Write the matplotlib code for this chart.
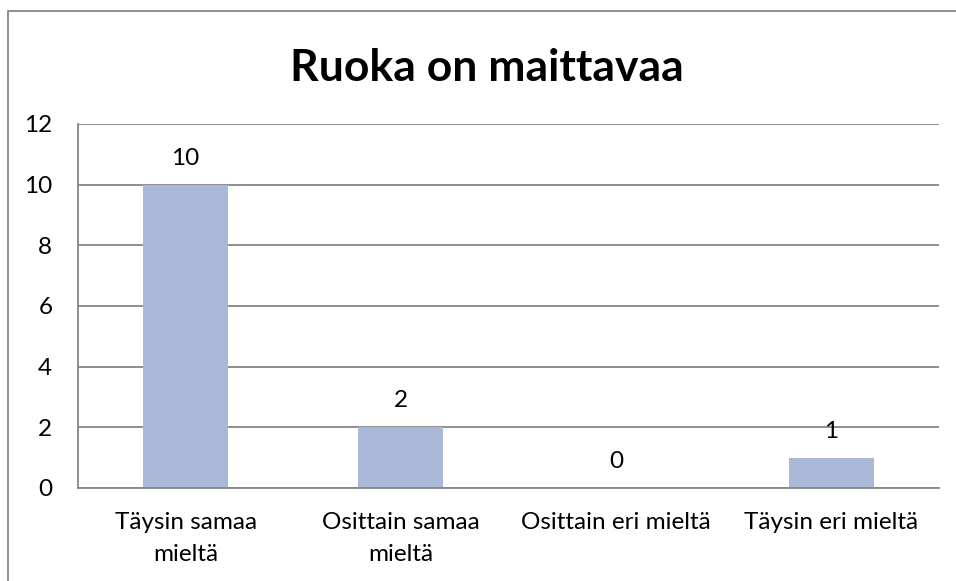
import matplotlib
matplotlib.use("Agg")
import matplotlib.pyplot as plt
from matplotlib.patches import Rectangle

categories = ["Täysin samaa\nmieltä", "Osittain samaa\nmieltä", "Osittain eri mieltä", "Täysin eri mieltä"]
values = [10, 2, 0, 1]
yticks = [0, 2, 4, 6, 8, 10, 12]
title = "Ruoka on maittavaa"

plt.rcParams['font.family'] = ['Lato', 'DejaVu Sans']

W, H = 956, 581
fig = plt.figure(figsize=(W / 100, H / 100), dpi=100)
fig.patch.set_facecolor("white")

# outer chart border
fig.patches.append(Rectangle((8 / W, -0.1), 1.2, (H - 11) / H + 0.1, transform=fig.transFigure,
                             fill=False, edgecolor="#868686", linewidth=1.3))

ax = fig.add_axes([78 / W, (H - 488) / H, (939 - 78) / W, (488 - 124) / H])
x = list(range(len(categories)))
ax.bar(x, values, width=0.395, color="#AAB9D7", zorder=3)
ax.set_xlim(-0.5, len(categories) - 0.5)
ax.set_ylim(0, 12)
ax.set_yticks(yticks)
ax.set_yticklabels([str(t) for t in yticks], fontsize=17.5)
ax.set_xticks(x)
ax.set_xticklabels(categories, fontsize=17.5, linespacing=1.65)
ax.tick_params(axis="y", length=0, pad=18.5)
ax.tick_params(axis="x", length=0, pad=17)
ax.grid(axis="y", color="#868686", linewidth=1.3, zorder=0)
for s in ["top", "right"]:
    ax.spines[s].set_visible(False)
for s in ["left", "bottom"]:
    ax.spines[s].set_color("#868686")
    ax.spines[s].set_linewidth(1.3)
    ax.spines[s].set_zorder(4)

for xi, v in zip(x, values):
    ax.annotate(str(v), (xi, v), xytext=(0, 19), textcoords="offset points",
                ha="center", va="center", fontsize=17.5, color="black")

fig.text(487 / W, 1 - 68 / H, title, ha="center", va="center", fontsize=32, fontweight="bold")

fig.savefig("out.png", dpi=100)
